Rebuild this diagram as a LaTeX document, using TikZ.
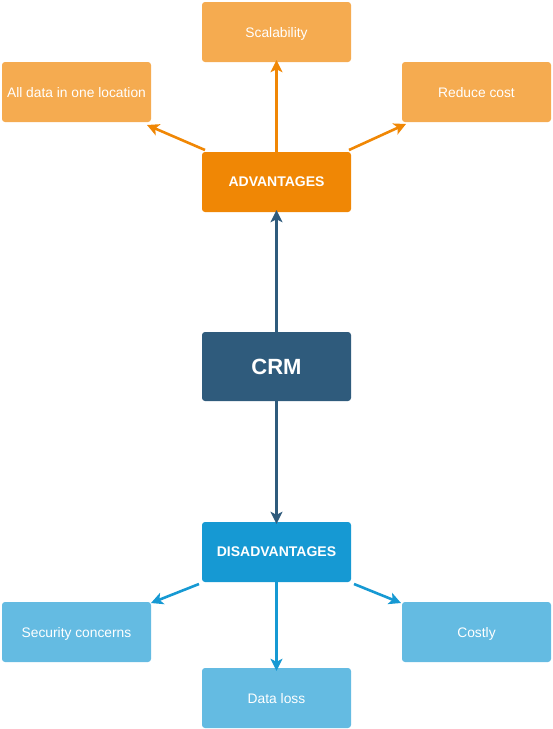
\documentclass[tikz,border=0pt]{standalone}
\usepackage{fontspec}
\setmainfont{Liberation Sans}
\usetikzlibrary{arrows.meta}
\definecolor{orD}{HTML}{F08705}
\definecolor{orL}{HTML}{F5AB50}
\definecolor{crmC}{HTML}{2F5B7C}
\definecolor{blD}{HTML}{1699D3}
\definecolor{blL}{HTML}{64BBE2}
\tikzset{
  box/.style={rectangle, rounded corners=3pt, minimum width=149pt, minimum height=60pt, inner sep=0pt, text=white, font=\fontsize{13.8}{16}\selectfont, text depth=0pt},
  advl/.style={box, fill=orL},
  advm/.style={box, fill=orD, font=\fontsize{14}{16}\selectfont\bfseries},
  disl/.style={box, fill=blL},
  dism/.style={box, fill=blD, font=\fontsize{14}{16}\selectfont\bfseries},
  crmbox/.style={box, fill=crmC, minimum height=69pt, font=\fontsize{22}{24}\selectfont\bfseries},
  conn/.style={line width=2.6pt, -{Stealth[length=12pt,width=12pt,inset=3pt]}},
}
\begin{document}
\begin{tikzpicture}[x=1pt,y=-1pt]
\useasboundingbox (0,0) rectangle (553,729);
\node[advl] (sc) at (276.5,32) {Scalability};
\node[advl] (ad) at (76.5,92) {All data in one location};
\node[advl] (rc) at (476.5,92) {Reduce cost};
\node[advm] (adv) at (276.5,182) {ADVANTAGES};
\node[crmbox] (crm) at (276.5,366.5) {CRM};
\node[dism] (dis) at (276.5,552) {DISADVANTAGES};
\node[disl] (sec) at (76.5,632) {Security concerns};
\node[disl] (co) at (476.5,632) {Costly};
\node[disl] (dl) at (276.5,698) {Data loss};
\coordinate (a1) at (205,150);
\coordinate (a2) at (349,150);
\coordinate (d1) at (199,584);
\coordinate (d2) at (354,584);
\draw[conn, orD] ([yshift=-1.5pt]adv.north) -- ([yshift=2pt]sc.south);
\draw[conn, orD] (a1) -- (147,125);
\draw[conn, orD] (a2) -- (406,124);
\draw[conn, crmC] ([yshift=-1.5pt]crm.north) -- ([yshift=2pt]adv.south);
\draw[conn, crmC] ([yshift=1.5pt]crm.south) -- ([yshift=-2pt]dis.north);
\draw[conn, blD] (d1) -- (151,603);
\draw[conn, blD] ([yshift=2.5pt]dis.south) -- ([yshift=-3pt]dl.north);
\draw[conn, blD] (d2) -- (401,603);
\end{tikzpicture}
\end{document}
